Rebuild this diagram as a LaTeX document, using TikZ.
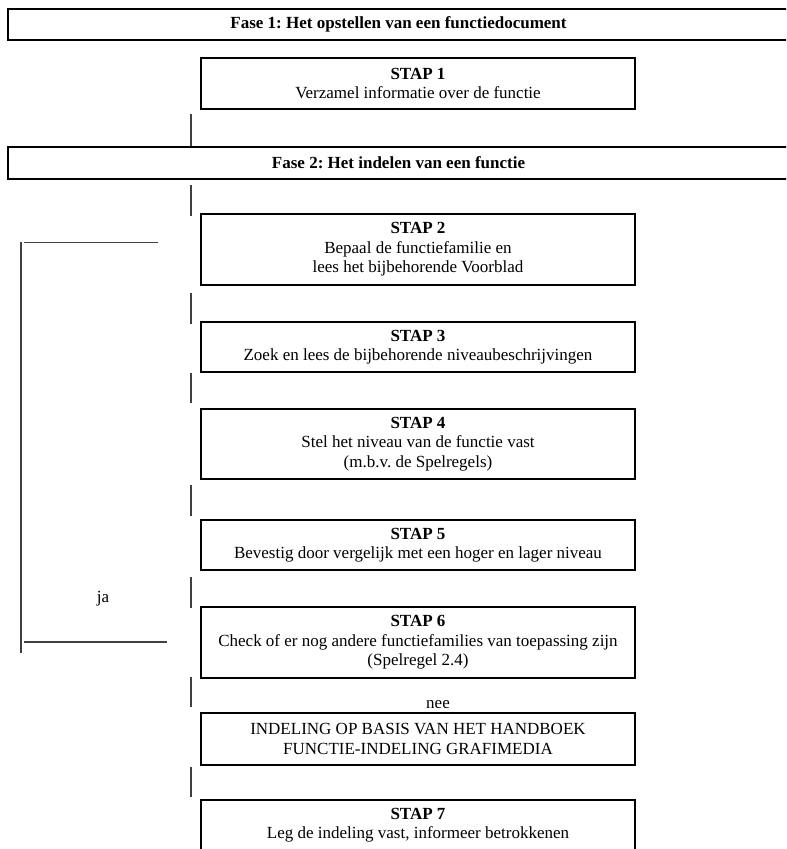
\documentclass[tikz,border=0pt]{standalone}
\usepackage{fontspec}
\setmainfont{Liberation Serif}
\frenchspacing
\begin{document}
\begin{tikzpicture}[x=0.75pt,y=-0.75pt,
  every node/.style={font=\fontsize{12.75pt}{14.5pt}\selectfont, inner sep=0pt, align=center},
  fasebox/.style={draw=black, line width=1.4pt, minimum width=585.75pt, font=\fontsize{12.75pt}{14.5pt}\selectfont\bfseries},
  stapbox/.style={draw=black, line width=1.5pt, minimum width=325.5pt},
  conn/.style={draw=black!75, line width=0.9pt},
  lbl/.style={font=\fontsize{12.75pt}{14.5pt}\selectfont}
]
\clip (0,0) rectangle (786,849);
\fill[white] (0,0) rectangle (786,849);

% phases
\node[fasebox, minimum height=23.25pt] (f1) at (398.5,24.5) {Fase 1: Het opstellen van een functiedocument};
\node[fasebox, minimum height=24pt] (f2) at (398.5,163) {Fase 2: Het indelen van een functie};

% steps
\node[stapbox, minimum height=38.25pt] (s1) at (418,83.5) {\textbf{STAP 1}\\Verzamel informatie over de functie};
\node[stapbox, minimum height=53.25pt] (s2) at (418,249.5) {\textbf{STAP 2}\\Bepaal de functiefamilie en\\lees het bijbehorende Voorblad};
\node[stapbox, minimum height=37.5pt] (s3) at (418,347) {\textbf{STAP 3}\\Zoek en lees de bijbehorende niveaubeschrijvingen};
\node[stapbox, minimum height=52.5pt] (s4) at (418,444) {\textbf{STAP 4}\\Stel het niveau van de functie vast\\(m.b.v. de Spelregels)};
\node[stapbox, minimum height=37.5pt] (s5) at (418,545) {\textbf{STAP 5}\\Bevestig door vergelijk met een hoger en lager niveau};
\node[stapbox, minimum height=53.25pt] (s6) at (418,642.5) {\textbf{STAP 6}\\Check of er nog andere functiefamilies van toepassing zijn\\(Spelregel 2.4)};
\node[stapbox, minimum height=39pt] (ind) at (418,739) {INDELING OP BASIS VAN HET HANDBOEK\\FUNCTIE-INDELING GRAFIMEDIA};
\node[stapbox, minimum height=38.25pt] (s7) at (418,825.5) {\textbf{STAP 7}\\Leg de indeling vast, informeer betrokkenen};

% labels
\node[lbl] (ja) at (103,599) {ja};
\node[lbl] (nee) at (438,705) {nee};

% connector end points
\coordinate (a1) at (191,114); \coordinate (b1) at (191,146);
\coordinate (a2) at (191,185); \coordinate (b2) at (191,216);
\coordinate (a3) at (191,293); \coordinate (b3) at (191,324);
\coordinate (a4) at (191,373); \coordinate (b4) at (191,403);
\coordinate (a5) at (191,485); \coordinate (b5) at (191,516);
\coordinate (a6) at (191,577); \coordinate (b6) at (191,608);
\coordinate (a7) at (191,677); \coordinate (b7) at (191,707);
\coordinate (a8) at (191,767); \coordinate (b8) at (191,797);
\foreach \i in {1,...,8} { \draw[conn] (a\i) -- (b\i); }

% loop-back bracket
\coordinate (bt) at (21,242);
\coordinate (bb) at (21,653);
\coordinate (ht1) at (24,242.5);
\coordinate (ht2) at (158,242.5);
\coordinate (hb1) at (24,642);
\coordinate (hb2) at (167,642);
\draw[conn] (bt) -- (bb);
\draw[conn] (ht1) -- (ht2);
\draw[conn] (hb1) -- (hb2);
\end{tikzpicture}
\end{document}
